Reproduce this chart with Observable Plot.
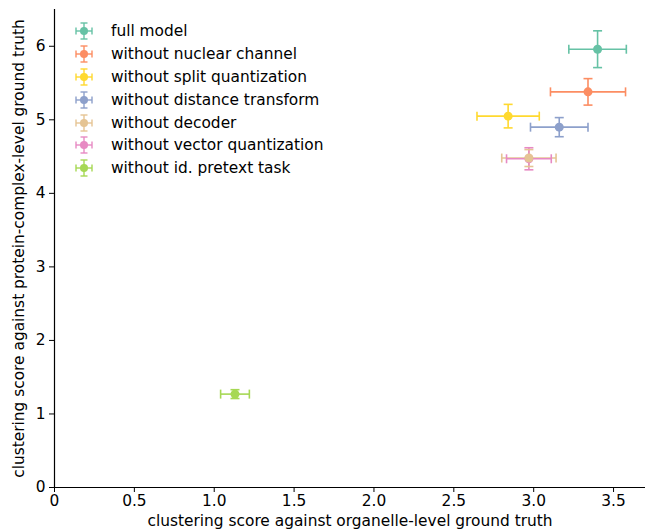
<!DOCTYPE html>
<html>
<head>
<meta charset="utf-8">
<script src="https://cdn.jsdelivr.net/npm/d3@7"></script>
<script src="https://cdn.jsdelivr.net/npm/@observablehq/plot@0.6"></script>
<style>
  html, body { margin: 0; padding: 0; background: #fff; }
  #wrap { position: relative; width: 646px; height: 531px; overflow: hidden; font-family: "DejaVu Sans", sans-serif; }
  #legend { position: absolute; left: 72px; top: 20px; font-size: 15.4px; color: #000; }
  .row { height: 22.8px; display: flex; align-items: center; white-space: nowrap; }
  .row svg { width: 24px; height: 20px; margin-right: 15px; }
</style>
</head>
<body>
<div id="wrap"><div id="legend"></div></div>
<script>
const models = ["full model", "without nuclear channel", "without split quantization", "without distance transform", "without decoder", "without vector quantization", "without id. pretext task"];
const colors = ["#66c2a5", "#fc8d62", "#ffd92f", "#8da0cb", "#e5c494", "#e78ac3", "#a6d854"];
const organelleScore = [3.40, 3.34, 2.84, 3.16, 2.97, 2.97, 1.13];
const organelleErr   = [0.18, 0.235, 0.195, 0.18, 0.17, 0.14, 0.09];
const complexScore   = [5.96, 5.38, 5.05, 4.90, 4.48, 4.47, 1.27];
const complexErr     = [0.25, 0.18, 0.16, 0.13, 0.115, 0.15, 0.06];
const xTicks = [0, 0.5, 1.0, 1.5, 2.0, 2.5, 3.0, 3.5];
const yTicks = [0, 1, 2, 3, 4, 5, 6];

const data = models.map((m, i) => ({
  model: m, x: organelleScore[i], xe: organelleErr[i], y: complexScore[i], ye: complexErr[i]
}));

const vcap = { draw(ctx) { ctx.moveTo(0, -4.5); ctx.lineTo(0, 4.5); } };
const hcap = { draw(ctx) { ctx.moveTo(-4.5, 0); ctx.lineTo(4.5, 0); } };

const lw = 1.6;
const chart = Plot.plot({
  width: 646, height: 531,
  marginLeft: 54, marginRight: 1, marginTop: 9, marginBottom: 44,
  style: { fontFamily: "DejaVu Sans, sans-serif", fontSize: "15.4px", color: "#000", background: "#fff" },
  x: { domain: [0, 3.7] },
  y: { domain: [0, 6.5] },
  color: { domain: models, range: colors },
  marks: [
    Plot.axisX({ ticks: xTicks, tickFormat: d => d === 0 ? "0" : d.toFixed(1), tickSize: 5, tickPadding: 3,
      label: "clustering score against organelle-level ground truth", labelAnchor: "center", labelArrow: "none", labelOffset: 38.5, fontSize: 15.4 }),
    Plot.axisY({ ticks: yTicks, tickFormat: d => String(d), tickSize: 5, tickPadding: 4,
      label: "clustering score against protein-complex-level ground truth", labelAnchor: "center", labelArrow: "none", labelOffset: 41, fontSize: 15.4 }),
    Plot.ruleX([0], { stroke: "#000", strokeWidth: 1.2 }),
    Plot.ruleY([0], { stroke: "#000", strokeWidth: 1.2 }),
    // horizontal error bars
    Plot.link(data, { x1: d => d.x - d.xe, x2: d => d.x + d.xe, y1: "y", y2: "y", stroke: "model", strokeWidth: lw }),
    Plot.dot(data, { x: d => d.x - d.xe, y: "y", symbol: vcap, fill: "none", stroke: "model", strokeWidth: lw }),
    Plot.dot(data, { x: d => d.x + d.xe, y: "y", symbol: vcap, fill: "none", stroke: "model", strokeWidth: lw }),
    // vertical error bars
    Plot.link(data, { x1: "x", x2: "x", y1: d => d.y - d.ye, y2: d => d.y + d.ye, stroke: "model", strokeWidth: lw }),
    Plot.dot(data, { x: "x", y: d => d.y - d.ye, symbol: hcap, fill: "none", stroke: "model", strokeWidth: lw }),
    Plot.dot(data, { x: "x", y: d => d.y + d.ye, symbol: hcap, fill: "none", stroke: "model", strokeWidth: lw }),
    // markers (reverse order so decoder sits above vector quantization)
    Plot.dot(data.slice().reverse(), { x: "x", y: "y", r: 4.5, fill: "model", stroke: "none" })
  ]
});
const wrap = document.getElementById("wrap");
wrap.insertBefore(chart, wrap.firstChild);
chart.style.display = "block";

const legend = document.getElementById("legend");
models.forEach((m, i) => {
  const row = document.createElement("div");
  row.className = "row";
  const c = colors[i];
  row.innerHTML = `<svg viewBox="-12 -10 24 20"><g stroke="${c}" stroke-width="1.4" fill="none">
    <line x1="-8" y1="0" x2="8" y2="0"/><line x1="-8" y1="-3.5" x2="-8" y2="3.5"/><line x1="8" y1="-3.5" x2="8" y2="3.5"/>
    <line x1="0" y1="-8" x2="0" y2="8"/><line x1="-3.5" y1="-8" x2="3.5" y2="-8"/><line x1="-3.5" y1="8" x2="3.5" y2="8"/></g>
    <circle r="4" fill="${c}"/></svg><span>${m}</span>`;
  legend.appendChild(row);
});
</script>
</body>
</html>
